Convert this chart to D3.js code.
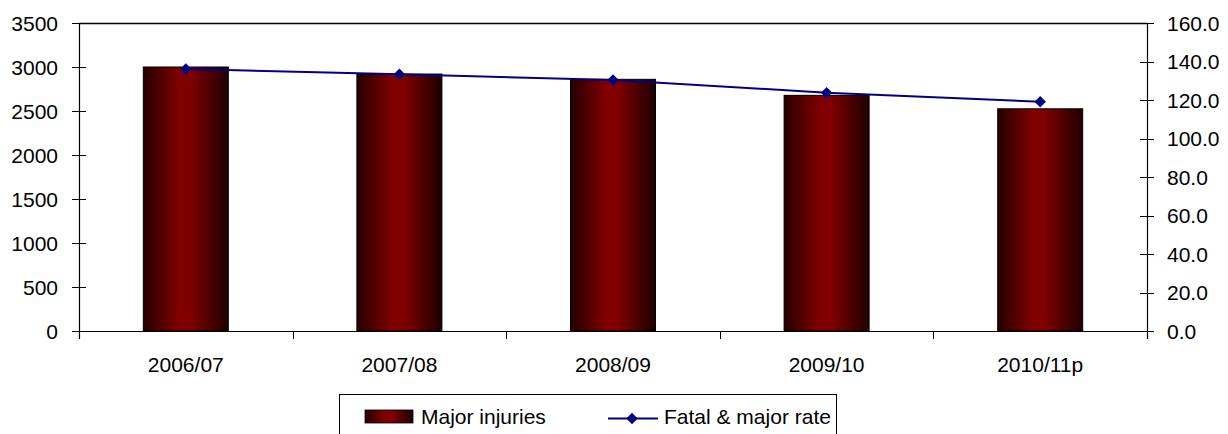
<!DOCTYPE html>
<html><head><meta charset="utf-8">
<script src="https://cdn.jsdelivr.net/npm/d3@7/dist/d3.min.js"></script>
<style>body{margin:0;background:#fff;}svg{display:block;font-family:"Liberation Sans",Arial,sans-serif;}</style>
</head><body>
<script>
const categories = ["2006/07","2007/08","2008/09","2009/10","2010/11p"];
const majorInjuries = [3000, 2920, 2860, 2678, 2525];
const fatalMajorRate = [136.1, 133.4, 130.4, 123.8, 119.1];
const leftTicks = [0,500,1000,1500,2000,2500,3000,3500];
const rightTicks = [0,20,40,60,80,100,120,140,160];
const seriesNames = ["Major injuries","Fatal & major rate"];

const W=1228,H=434;
const m={l:79,r:1147,t:23,b:331};
const svg=d3.select("body").append("svg").attr("width",W).attr("height",H);
const defs=svg.append("defs");
const g=defs.append("linearGradient").attr("id","barg").attr("x1","0").attr("x2","1").attr("y1","0").attr("y2","0");
[[0,"#260000"],[0.42,"#800000"],[0.55,"#800000"],[1,"#1e0000"]].forEach(s=>g.append("stop").attr("offset",s[0]).attr("stop-color",s[1]));

const x=d3.scaleBand().domain(categories).range([m.l,m.r]).paddingInner(0.6).paddingOuter(0.3);
const xb=d3.scaleBand().domain(categories).range([m.l,m.r]);
const yL=d3.scaleLinear().domain([0,3500]).range([m.b,m.t]);
const yR=d3.scaleLinear().domain([0,160]).range([m.b,m.t]);

// bars
svg.selectAll("rect.bar").data(majorInjuries).join("rect").attr("class","bar")
 .attr("x",(d,i)=>xb(categories[i])+xb.bandwidth()/2-42.5).attr("width",85)
 .attr("y",d=>yL(d)).attr("height",d=>yL(0)-yL(d))
 .attr("fill","url(#barg)").attr("stroke","#000").attr("stroke-width",1);

// frame
svg.append("line").attr("x1",m.l).attr("x2",m.r).attr("y1",m.t+0.5).attr("y2",m.t+0.5).attr("stroke","#000").attr("stroke-width",1.5);
svg.append("line").attr("x1",m.l).attr("x2",m.r).attr("y1",m.b+0.5).attr("y2",m.b+0.5).attr("stroke","#000").attr("stroke-width",1.2);
svg.append("line").attr("x1",m.l+0.5).attr("x2",m.l+0.5).attr("y1",m.t).attr("y2",m.b+8).attr("stroke","#000").attr("stroke-width",1.2);
svg.append("line").attr("x1",m.r+0.5).attr("x2",m.r+0.5).attr("y1",m.t).attr("y2",m.b+8).attr("stroke","#000").attr("stroke-width",1.2);

// left ticks
const lt=svg.append("g");
leftTicks.forEach(t=>{
  lt.append("line").attr("x1",m.l-7).attr("x2",m.l+7).attr("y1",Math.round(yL(t))+0.5).attr("y2",Math.round(yL(t))+0.5).attr("stroke","#000").attr("stroke-width",1);
  lt.append("text").attr("x",m.l-21).attr("y",yL(t)).attr("dy","0.36em").attr("text-anchor","end").attr("font-size",21).attr("fill","#000").text(t);
});
const rt=svg.append("g");
rightTicks.forEach(t=>{
  rt.append("line").attr("x1",m.r-7).attr("x2",m.r+7).attr("y1",Math.round(yR(t))+0.5).attr("y2",Math.round(yR(t))+0.5).attr("stroke","#000").attr("stroke-width",1);
  rt.append("text").attr("x",m.r+20).attr("y",yR(t)).attr("dy","0.36em").attr("text-anchor","start").attr("font-size",21).attr("fill","#000").text(d3.format(".1f")(t));
});
// x ticks at boundaries
categories.forEach((c,i)=>{
  const bx=Math.round(xb(c))+0.5;
  svg.append("line").attr("x1",bx).attr("x2",bx).attr("y1",m.b).attr("y2",m.b+8).attr("stroke","#000");
  svg.append("text").attr("x",xb(c)+xb.bandwidth()/2).attr("y",364).attr("dy","0.36em").attr("text-anchor","middle").attr("font-size",21).attr("fill","#000").text(c);
});

// line
const cx=(d,i)=>xb(categories[i])+xb.bandwidth()/2;
svg.append("path").datum(fatalMajorRate).attr("fill","none").attr("stroke","#000080").attr("stroke-width",2)
 .attr("d",d3.line().x(cx).y(d=>yR(d)));
const diamond=d3.symbol().type(d3.symbolDiamond2).size(72);
svg.selectAll("path.mk").data(fatalMajorRate).join("path").attr("class","mk")
 .attr("transform",(d,i)=>`translate(${cx(d,i)},${yR(d)}) rotate(45)`)
 .attr("d",d3.symbol().type(d3.symbolSquare).size(64)).attr("fill","#000080");

// legend
const lg=svg.append("g");
lg.append("rect").attr("x",339.5).attr("y",394.5).attr("width",497).attr("height",60).attr("fill","#fff").attr("stroke","#000").attr("stroke-width",1);
lg.append("rect").attr("x",365).attr("y",410).attr("width",48).attr("height",13).attr("fill","url(#barg)").attr("stroke","#000").attr("stroke-width",0.8);
lg.append("text").attr("x",421).attr("y",416).attr("dy","0.36em").attr("font-size",21).attr("fill","#000").text(seriesNames[0]);
lg.append("line").attr("x1",608).attr("x2",658).attr("y1",418.5).attr("y2",418.5).attr("stroke","#000080").attr("stroke-width",2);
lg.append("path").attr("transform","translate(632,418.5) rotate(45)").attr("d",d3.symbol().type(d3.symbolSquare).size(64)).attr("fill","#000080");
lg.append("text").attr("x",664).attr("y",416).attr("dy","0.36em").attr("font-size",21).attr("fill","#000").text(seriesNames[1]);
</script>
</body></html>
